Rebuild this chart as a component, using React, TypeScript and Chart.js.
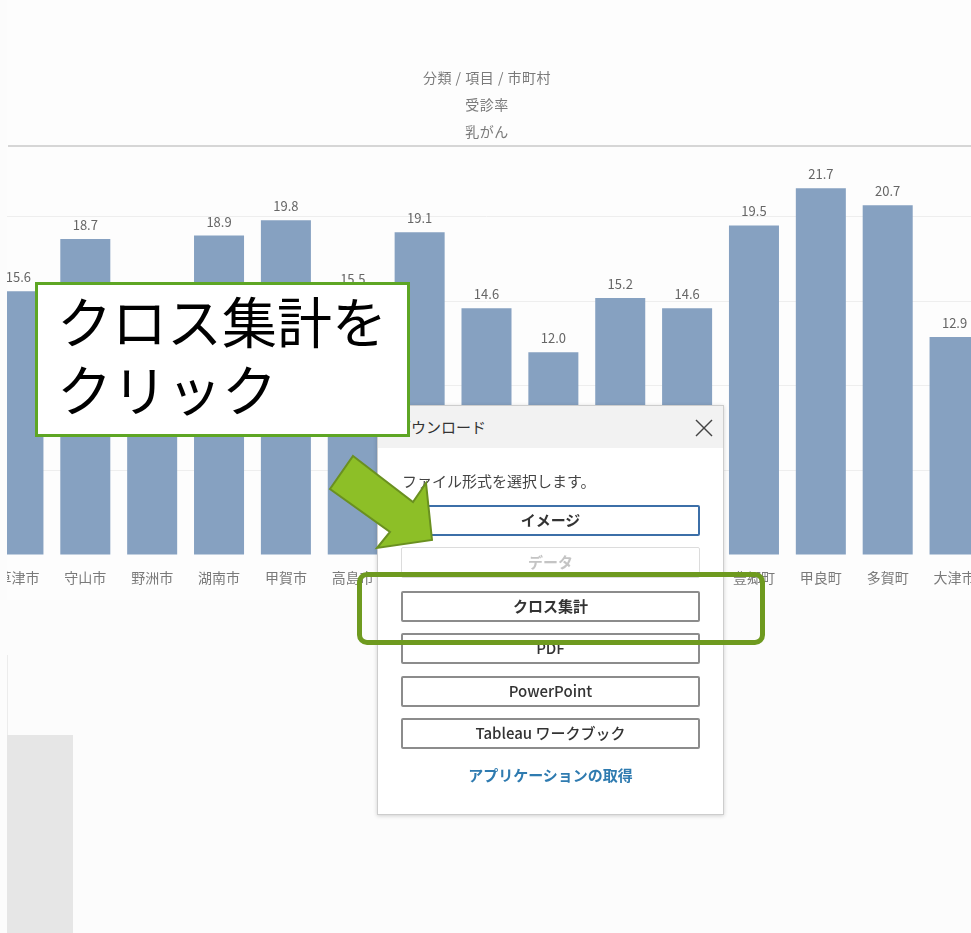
import React, { useEffect, useRef } from "react";
import { Chart, registerables } from "chart.js";

Chart.register(...registerables);

const categories = [
  "草津市", "守山市", "野洲市", "湖南市", "甲賀市", "高島市", "東近江市", "米原市",
  "日野町", "竜王町", "愛荘町", "豊郷町", "甲良町", "多賀町", "大津市",
];
const rates = [15.6, 18.7, 13.8, 18.9, 19.8, 15.5, 19.1, 14.6, 12.0, 15.2, 14.6, 19.5, 21.7, 20.7, 12.9];
const headerLines = ["分類 / 項目 / 市町村", "受診率", "乳がん"];
const dialogButtons = ["イメージ", "データ", "クロス集計", "PDF", "PowerPoint", "Tableau ワークブック"];

const FONT = '"Noto Sans CJK JP", "Noto Sans", sans-serif';
const BAR = "#86a1c1";

const valueLabels = {
  id: "valueLabels",
  afterDatasetsDraw(chart: any) {
    const ctx = chart.ctx;
    const meta = chart.getDatasetMeta(0);
    ctx.save();
    ctx.font = `13px ${FONT}`;
    ctx.fillStyle = "#666";
    ctx.textAlign = "center";
    ctx.textBaseline = "middle";
    meta.data.forEach((bar: any, i: number) => {
      ctx.fillText(rates[i].toFixed(1), bar.x, bar.y - 14);
    });
    ctx.restore();
  },
};

export default function App() {
  const ref = useRef<HTMLCanvasElement | null>(null);
  useEffect(() => {
    if (!ref.current) return;
    const chart = new Chart(ref.current, {
      type: "bar",
      data: {
        labels: categories,
        datasets: [
          {
            data: rates,
            backgroundColor: BAR,
            categoryPercentage: 1,
            barPercentage: 0.748,
          },
        ],
      },
      options: {
        responsive: false,
        animation: false,
        devicePixelRatio: 1,
        layout: { padding: { top: 146, left: 0, right: 0, bottom: 0 } },
        plugins: { legend: { display: false }, tooltip: { enabled: false } },
        scales: {
          x: {
            grid: { display: false },
            border: { display: false },
            ticks: { color: "#7a7a7a", font: { size: 14, family: FONT }, padding: 6, maxRotation: 0, autoSkip: false },
            afterFit: (s: any) => { s.height = 45; },
          },
          y: {
            min: 0,
            max: 24.2,
            ticks: { display: false, stepSize: 5, includeBounds: false },
            grid: {
              drawTicks: false,
              color: (c: any) => (c.tick && c.tick.value === 0 ? "rgba(0,0,0,0)" : "#eeeeee"),
            },
            border: { display: false },
            afterFit: (s: any) => { s.width = 0; },
          },
        },
      },
      plugins: [valueLabels],
    });
    return () => chart.destroy();
  }, []);

  const btnTops = [504, 546, 590, 632, 675, 717];

  return (
    <div style={{ position: "fixed", left: 0, top: 0, width: 971, height: 933, background: "#fcfcfc", overflow: "hidden", fontFamily: FONT }}>
      <div style={{ position: "absolute", left: 7, top: 0, width: 964, height: 600, overflow: "hidden", background: "#fdfdfd" }}>
        <canvas ref={ref} width={1003} height={600} style={{ position: "absolute", left: -22, top: 0, width: 1003, height: 600 }} />
      </div>
      {headerLines.map((t, i) => (
        <div key={i} style={{ position: "absolute", left: 387, width: 200, top: 67 + i * 27, textAlign: "center", fontSize: 14, color: "#7a7a7a", lineHeight: "20px", letterSpacing: 0.5 }}>{t}</div>
      ))}
      <div style={{ position: "absolute", left: 8, top: 145, width: 963, height: 2, background: "#d6d6d6" }} />
      <div style={{ position: "absolute", left: 7, top: 655, width: 1, height: 80, background: "#ececec" }} />
      <div style={{ position: "absolute", left: 7, top: 735, width: 66, height: 198, background: "#e6e6e6" }} />

      {/* dialog */}
      <div style={{ position: "absolute", left: 377, top: 405, width: 345, height: 408, background: "#fff", border: "1px solid #cdcdcd", boxShadow: "0 1px 4px rgba(0,0,0,0.18)" }}>
        <div style={{ height: 42, background: "#f2f2f2", position: "relative" }}>
          <div style={{ position: "absolute", left: 18, top: 10, fontSize: 15, color: "#333" }}>ダウンロード</div>
          <svg width={20} height={20} style={{ position: "absolute", left: 316, top: 12 }}>
            <line x1={2} y1={2} x2={18} y2={18} stroke="#444" strokeWidth={1.5} />
            <line x1={18} y1={2} x2={2} y2={18} stroke="#444" strokeWidth={1.5} />
          </svg>
        </div>
        <div style={{ position: "absolute", left: 24, top: 64, fontSize: 15, color: "#444" }}>ファイル形式を選択します。</div>
        {dialogButtons.map((b, i) => {
          const disabled = i === 1;
          const focused = i === 0;
          return (
            <div key={b} style={{
              position: "absolute", left: 23, top: btnTops[i] - 405, width: 299, height: 31, boxSizing: "border-box",
              border: focused ? "2px solid #3c6fa8" : disabled ? "1px solid #dcdcdc" : "2px solid #8c8c8c",
              borderRadius: 2, textAlign: "center", lineHeight: disabled ? "27px" : "25px",
              fontSize: 15, fontWeight: i < 3 ? 700 : 500, color: disabled ? "#c4c4c4" : "#333",
            }}>{b}</div>
          );
        })}
        <div style={{ position: "absolute", left: 0, width: 345, top: 358, textAlign: "center", fontSize: 15, fontWeight: 700, color: "#2f7bb0" }}>アプリケーションの取得</div>
      </div>

      {/* highlight */}
      <div style={{ position: "absolute", left: 357, top: 572, width: 408, height: 73, boxSizing: "border-box", border: "5px solid #6e9a1f", borderRadius: 10 }} />

      {/* callout */}
      <div style={{ position: "absolute", left: 35, top: 282, width: 375, height: 155, boxSizing: "border-box", border: "3px solid #5ea624", background: "#fff", paddingLeft: 19, paddingTop: 0, fontSize: 55, lineHeight: "68px", color: "#000", whiteSpace: "nowrap" }}>
        <div>クロス集計を</div>
        <div>クリック</div>
      </div>

      {/* arrow */}
      <svg width={971} height={933} style={{ position: "absolute", left: 0, top: 0, pointerEvents: "none" }}>
        <polygon points="353,456 413,502 426,483 432,540 377,548 390,532 330,489" fill="#8dbf27" stroke="#6a9020" strokeWidth={2} strokeLinejoin="miter" />
      </svg>
    </div>
  );
}
